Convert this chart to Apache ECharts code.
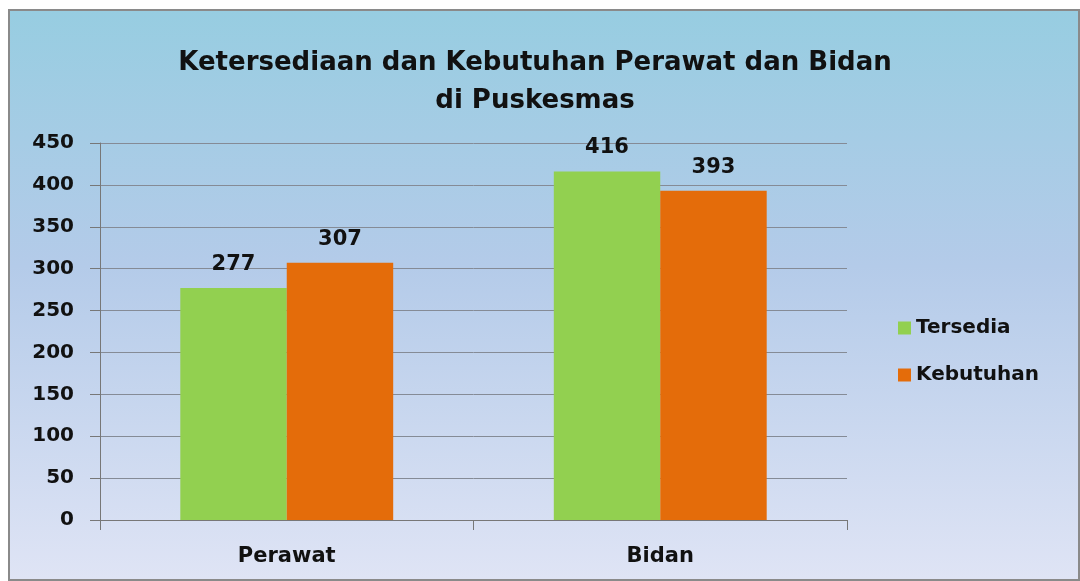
<!DOCTYPE html>
<html>
<head>
<meta charset="utf-8">
<script src="https://cdn.jsdelivr.net/npm/echarts@6/dist/echarts.min.js"></script>
<style>
    html, body { margin: 0; padding: 0; background: #fff; width: 1080px; height: 581px; overflow: hidden; }
    #chart {
        position: absolute; left: 8px; top: 9px; width: 1068px; height: 568px;
        border: 2px solid #8a8a8a;
        background: linear-gradient(to bottom, #97cde1 0%, #b4cbe9 45%, #dfe4f5 100%);
    }
</style>
</head>
<body>
<div id="chart"></div>
<script>
var categories = ['Perawat', 'Bidan'];
var tersedia = [277, 416];
var kebutuhan = [307, 393];
var titleText = 'Ketersediaan dan Kebutuhan Perawat dan Bidan\ndi Puskesmas';

function init() {
    var myChart = echarts.init(document.getElementById('chart'));
    var fontName = '"DejaVu Sans", sans-serif';
    var labelStyle = {
        show: true,
        position: 'top',
        distance: 13,
        color: '#111',
        fontSize: 21,
        fontWeight: 'bold',
        fontFamily: fontName
    };
    myChart.setOption({
        animation: false,
        title: {
            text: titleText,
            left: 520,
            top: 28,
            textAlign: 'center',
            textStyle: {
                color: '#111',
                fontSize: 26,
                fontWeight: 'bold',
                fontFamily: fontName,
                lineHeight: 38
            }
        },
        legend: {
            orient: 'vertical',
            left: 883,
            top: 302,
            itemWidth: 13,
            itemHeight: 13,
            itemGap: 27,
            icon: 'rect',
            textStyle: {
                color: '#111',
                fontSize: 20,
                fontWeight: 'bold',
                fontFamily: fontName
            },
            data: ['Tersedia', 'Kebutuhan']
        },
        grid: {
            left: 90,
            right: 231,
            top: 132,
            bottom: 59,
            containLabel: false
        },
        xAxis: {
            type: 'category',
            data: categories,
            axisLine: { lineStyle: { color: '#777' } },
            axisTick: { show: true, length: 10, inside: false, lineStyle: { color: '#777' } },
            axisLabel: {
                margin: 26,
                color: '#111',
                fontSize: 21,
                fontWeight: 'bold',
                fontFamily: fontName
            }
        },
        yAxis: {
            type: 'value',
            min: 0,
            max: 450,
            interval: 50,
            axisLine: { show: true, lineStyle: { color: '#777' } },
            axisTick: { show: true, length: 10, lineStyle: { color: '#777' } },
            splitLine: { lineStyle: { color: '#858b96' } },
            axisLabel: {
                margin: 26,
                color: '#111',
                fontSize: 20,
                fontWeight: 'bold',
                fontFamily: fontName
            }
        },
        series: [
            {
                name: 'Tersedia',
                type: 'bar',
                data: tersedia,
                barGap: '0%',
                barCategoryGap: '43%',
                itemStyle: { color: '#92d050' },
                label: labelStyle
            },
            {
                name: 'Kebutuhan',
                type: 'bar',
                data: kebutuhan,
                itemStyle: { color: '#e46c0a' },
                label: labelStyle
            }
        ]
    });
}
document.addEventListener('DOMContentLoaded', init);
</script>
</body>
</html>
